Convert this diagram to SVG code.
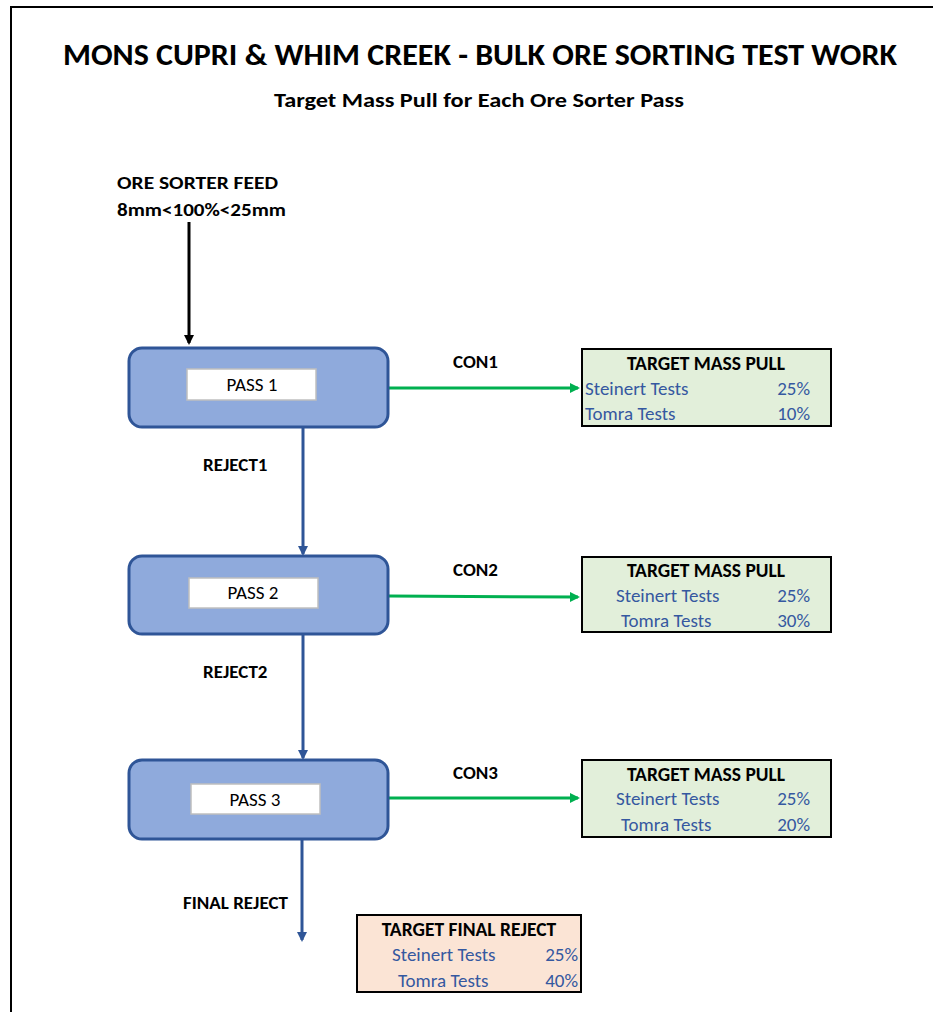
<svg xmlns="http://www.w3.org/2000/svg" width="933" height="1012" viewBox="0 0 933 1012">
  <style>
    text { font-family: Carlito, "Liberation Sans", Arial, sans-serif; }
    .title { font-size: 31px; font-weight: bold; fill: #000; }
    .sub { font-size: 21px; font-weight: bold; fill: #000; }
    .lbl { font-size: 19px; font-weight: bold; fill: #000; }
    .pass { fill: #8FAADC; stroke: #2F5597; stroke-width: 3; }
    .inner { fill: #fff; stroke: #BFBFBF; stroke-width: 1.5; }
    .ptxt { font-size: 19px; fill: #000; text-anchor: middle; }
    .tgt { fill: #E2EFDA; stroke: #000; stroke-width: 2; }
    .rej { fill: #FBE4D5; stroke: #000; stroke-width: 2; }
    .thead { font-size: 19.5px; font-weight: bold; fill: #000; text-anchor: middle; }
    .tval { font-size: 19px; fill: #3558A0; }
    .r { text-anchor: end; }
    .feed { stroke: #000; stroke-width: 3; fill: none; }
    .rline { stroke: #2F5597; stroke-width: 3; fill: none; }
    .cline { stroke: #00B050; stroke-width: 3; fill: none; }
  </style>
  <defs>
    <marker id="ahBlack" markerWidth="10" markerHeight="10" refX="8" refY="5" orient="auto" markerUnits="userSpaceOnUse" viewBox="0 0 10 10">
      <path d="M0,0 L10,5 L0,10 Z" fill="#000"/>
    </marker>
    <marker id="ahBlue" markerWidth="10" markerHeight="10" refX="8" refY="5" orient="auto" markerUnits="userSpaceOnUse" viewBox="0 0 10 10">
      <path d="M0,0 L10,5 L0,10 Z" fill="#2F5597"/>
    </marker>
    <marker id="ahGreen" markerWidth="10" markerHeight="10" refX="8" refY="5" orient="auto" markerUnits="userSpaceOnUse" viewBox="0 0 10 10">
      <path d="M0,0 L10,5 L0,10 Z" fill="#00B050"/>
    </marker>
  </defs>

  <rect width="933" height="1012" fill="#fff"/>
  <!-- page frame (top and left edges) -->
  <path d="M11,1012 V7 H933" fill="none" stroke="#000" stroke-width="2"/>

  <g id="heading">
    <text class="title" x="480" y="65" text-anchor="middle" textLength="834" lengthAdjust="spacingAndGlyphs">MONS CUPRI &amp; WHIM CREEK - BULK ORE SORTING TEST WORK</text>
    <text class="sub" x="479" y="107" text-anchor="middle" textLength="410" lengthAdjust="spacingAndGlyphs">Target Mass Pull for Each Ore Sorter Pass</text>
  </g>

  <g id="feed">
    <text class="lbl" x="117" y="189" textLength="161" lengthAdjust="spacingAndGlyphs">ORE SORTER FEED</text>
    <text class="lbl" x="117" y="216" textLength="169" lengthAdjust="spacingAndGlyphs">8mm&lt;100%&lt;25mm</text>
  </g>

  <g id="connectors">
    <line class="feed" x1="189" y1="222" x2="189" y2="343" marker-end="url(#ahBlack)"/>
    <line class="rline" x1="303" y1="428" x2="303" y2="554" marker-end="url(#ahBlue)"/>
    <line class="rline" x1="303" y1="635" x2="303" y2="758" marker-end="url(#ahBlue)"/>
    <line class="rline" x1="302" y1="840" x2="302" y2="940" marker-end="url(#ahBlue)"/>
    <line class="cline" x1="389" y1="388" x2="578" y2="388" marker-end="url(#ahGreen)"/>
    <line class="cline" x1="389" y1="596" x2="578" y2="597" marker-end="url(#ahGreen)"/>
    <line class="cline" x1="389" y1="798" x2="578" y2="798" marker-end="url(#ahGreen)"/>
    <text class="lbl" x="453" y="368">CON1</text>
    <text class="lbl" x="453" y="576">CON2</text>
    <text class="lbl" x="453" y="779">CON3</text>
    <text class="lbl" x="203" y="471">REJECT1</text>
    <text class="lbl" x="203" y="678">REJECT2</text>
    <text class="lbl" x="183" y="909">FINAL REJECT</text>
  </g>

  <g id="pass1">
    <rect class="pass" x="129" y="348" width="259" height="79" rx="13"/>
    <rect class="inner" x="187" y="369" width="129" height="31"/>
    <text class="ptxt" x="252" y="391">PASS 1</text>
  </g>

  <g id="pass2">
    <rect class="pass" x="129" y="556" width="259" height="78" rx="13"/>
    <rect class="inner" x="189" y="578" width="129" height="30"/>
    <text class="ptxt" x="253" y="599">PASS 2</text>
  </g>

  <g id="pass3">
    <rect class="pass" x="129" y="760" width="259" height="79" rx="13"/>
    <rect class="inner" x="191" y="784" width="129" height="30"/>
    <text class="ptxt" x="255" y="806">PASS 3</text>
  </g>

  <g id="target1">
    <rect class="tgt" x="582" y="349" width="249" height="77"/>
    <text class="thead" x="706" y="370">TARGET MASS PULL</text>
    <text class="tval" x="585" y="395">Steinert Tests</text>
    <text class="tval r" x="810" y="395">25%</text>
    <text class="tval" x="585" y="420">Tomra Tests</text>
    <text class="tval r" x="810" y="420">10%</text>
  </g>

  <g id="target2">
    <rect class="tgt" x="582" y="557" width="249" height="75"/>
    <text class="thead" x="706" y="577">TARGET MASS PULL</text>
    <text class="tval" x="616" y="602">Steinert Tests</text>
    <text class="tval r" x="810" y="602">25%</text>
    <text class="tval" x="621" y="627">Tomra Tests</text>
    <text class="tval r" x="810" y="627">30%</text>
  </g>

  <g id="target3">
    <rect class="tgt" x="582" y="760" width="249" height="77"/>
    <text class="thead" x="706" y="781">TARGET MASS PULL</text>
    <text class="tval" x="616" y="805">Steinert Tests</text>
    <text class="tval r" x="810" y="805">25%</text>
    <text class="tval" x="621" y="831">Tomra Tests</text>
    <text class="tval r" x="810" y="831">20%</text>
  </g>

  <g id="final-reject">
    <rect class="rej" x="357" y="915" width="224" height="77"/>
    <text class="thead" x="469" y="936">TARGET FINAL REJECT</text>
    <text class="tval" x="392" y="961">Steinert Tests</text>
    <text class="tval r" x="578" y="961">25%</text>
    <text class="tval" x="398" y="987">Tomra Tests</text>
    <text class="tval r" x="578" y="987">40%</text>
  </g>
</svg>
